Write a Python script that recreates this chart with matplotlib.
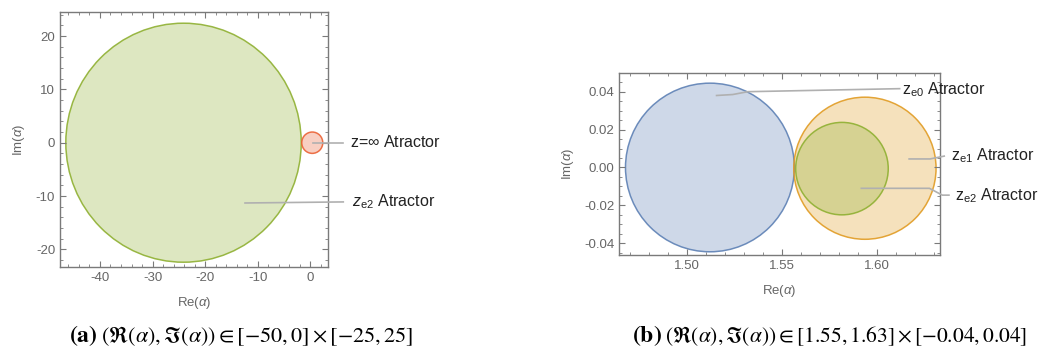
import matplotlib
matplotlib.use("Agg")
import matplotlib.pyplot as plt
from matplotlib.patches import Circle
from matplotlib.ticker import MultipleLocator, FormatStrFormatter

# Mathematica default palette (ColorData[97])
BLUE = (0.368417, 0.506779, 0.709798)
ORANGE = (0.880722, 0.611041, 0.142051)
GREEN = (0.560181, 0.691569, 0.194885)
RED = (0.922526, 0.385626, 0.209179)

# panel (a): basins in the alpha plane
a_centers = [(-24.1, 0.0), (0.4, 0.0)]
a_radii = [22.4, 2.0]
a_colors = [GREEN, RED]
a_labels = [r"z=$\infty$ Atractor", r"$z_{\mathregular{e2}}$ Atractor"]
a_label_xy = [(7.6, -0.86), (7.9, -12.0)]
a_leaders = [[(0.6, 0.0), (6.3, 0.0)],
             [(-12.4, -11.3), (6.3, -11.1)]]

# panel (b): zoom near the real axis
b_centers = [(1.512, 0.0), (1.5937, -0.0004), (1.5816, -0.0006)]
b_radii = [0.0445, 0.0375, 0.0244]
b_colors = [BLUE, ORANGE, GREEN]
b_labels = [r"$\mathregular{z_{e0}}$ Atractor",
            r"$\mathregular{z_{e1}}$ Atractor",
            r"$\mathregular{z_{e2}}$ Atractor"]
b_label_xy = [(1.6135, 0.0388), (1.6392, 0.0036), (1.641, -0.0173)]
b_leaders = [[(1.5155, 0.038), (1.524, 0.0385), (1.532, 0.0400), (1.612, 0.0416)],
             [(1.617, 0.0045), (1.628, 0.0045), (1.6355, 0.0060)],
             [(1.5918, -0.0110), (1.6277, -0.0110), (1.6345, -0.0146), (1.638, -0.0146)]]

plt.rcParams["font.family"] = ["Liberation Sans", "DejaVu Sans"]
plt.rcParams["mathtext.fontset"] = "custom"
plt.rcParams["mathtext.rm"] = "Liberation Sans"
plt.rcParams["mathtext.it"] = "Liberation Sans:italic"

TICK_GRAY = "#666666"
FRAME_GRAY = "#7a7a7a"
LEADER_GRAY = "#b0b0b0"


def style_axes(ax, xmaj, xmin, ymaj, ymin, fmt_x, fmt_y):
    for s in ax.spines.values():
        s.set_color(FRAME_GRAY)
        s.set_linewidth(1.0)
    ax.xaxis.set_major_locator(MultipleLocator(xmaj))
    ax.xaxis.set_minor_locator(MultipleLocator(xmin))
    ax.yaxis.set_major_locator(MultipleLocator(ymaj))
    ax.yaxis.set_minor_locator(MultipleLocator(ymin))
    ax.xaxis.set_major_formatter(FormatStrFormatter(fmt_x))
    ax.yaxis.set_major_formatter(FormatStrFormatter(fmt_y))
    ax.tick_params(which="both", direction="in", top=True, right=True,
                   color=FRAME_GRAY, labelcolor=TICK_GRAY, labelsize=9.5)
    ax.tick_params(which="major", length=4, width=0.8)
    ax.tick_params(which="minor", length=2, width=0.6)
    ax.set_xlabel(r"Re($\alpha$)", color=TICK_GRAY, fontsize=9.5, labelpad=8)
    ax.set_ylabel(r"Im($\alpha$)", color=TICK_GRAY, fontsize=9.5, labelpad=6)


def draw(ax, centers, radii, colors, labels, label_xy, leaders):
    for (cx, cy), r, c in zip(centers, radii, colors):
        ax.add_patch(Circle((cx, cy), r, facecolor=c, alpha=0.3, edgecolor="none"))
        ax.add_patch(Circle((cx, cy), r, facecolor="none", edgecolor=c,
                            alpha=0.9, lw=1.1))
    for pts, (tx, ty), lab in zip(leaders, label_xy, labels):
        xs = [p[0] for p in pts]
        ys = [p[1] for p in pts]
        ax.plot(xs, ys, color=LEADER_GRAY, lw=1.2, clip_on=False, zorder=5)
        ax.text(tx, ty, lab, fontsize=11.5, color="#222222", ha="left",
                va="baseline", clip_on=False)


fig = plt.figure(figsize=(10.46, 3.53), dpi=100)

ax1 = fig.add_axes([0.0574, 0.2436, 0.2562, 0.7224])
draw(ax1, a_centers, a_radii, a_colors, a_labels, a_label_xy, a_leaders)
ax1.set_xlim(-47.6, 3.4)
ax1.set_ylim(-23.3, 24.5)
style_axes(ax1, 10, 2, 10, 2, "%d", "%d")

ax2 = fig.add_axes([0.5920, 0.2776, 0.3067, 0.5147])
draw(ax2, b_centers, b_radii, b_colors, b_labels, b_label_xy, b_leaders)
ax2.set_xlim(1.4642, 1.6333)
ax2.set_ylim(-0.0462, 0.0497)
style_axes(ax2, 0.05, 0.01, 0.02, 0.005, "%.2f", "%.2f")

# sub-captions
base = 1 - 342 / 353
fig.text(98 / 1046, base, r"$\mathbf{(a)}$", fontsize=17,
         va="baseline", ha="right", math_fontfamily="stix")
fig.text(101 / 1046, base,
         r"$(\Re(\alpha), \Im(\alpha)) \in [-50, 0] \times [-25, 25]$",
         fontsize=16, va="baseline", ha="left", math_fontfamily="stix")
fig.text(662 / 1046, base, r"$\mathbf{(b)}$", fontsize=17,
         va="baseline", ha="right", math_fontfamily="stix")
fig.text(665 / 1046, base,
         r"$(\Re(\alpha), \Im(\alpha)) \in [1.55, 1.63] \times [-0.04, 0.04]$",
         fontsize=15.5, va="baseline", ha="left", math_fontfamily="stix")

fig.savefig("out.png", dpi=100)
